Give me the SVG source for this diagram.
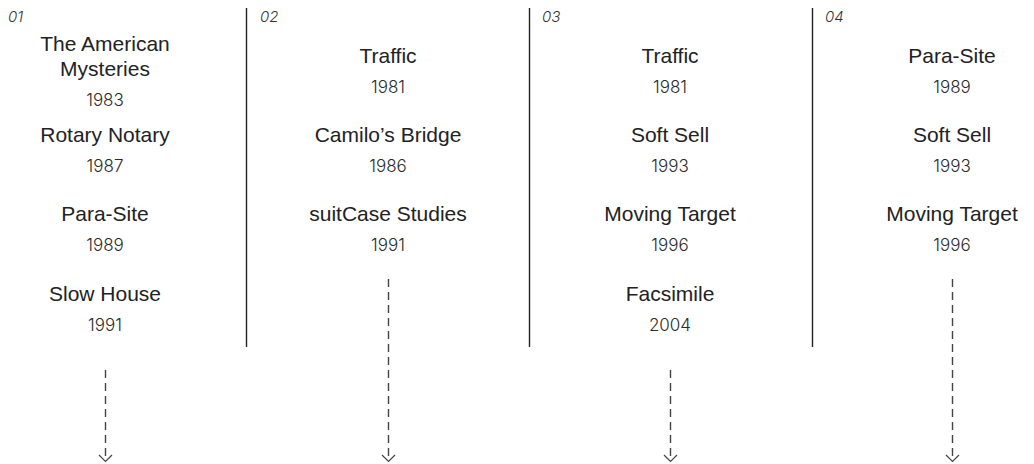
<svg xmlns="http://www.w3.org/2000/svg" width="1034" height="464" viewBox="0 0 1034 464">
<style>
.t{font-family:"Liberation Sans",Arial,sans-serif;font-size:21px;fill:#222;text-anchor:middle}
.y{font-family:Inter,"Liberation Sans",sans-serif;font-size:17px;font-weight:300;fill:#2a2a2a;text-anchor:middle}
.n{font-family:Inter,"Liberation Sans",sans-serif;font-size:15px;font-weight:300;font-style:italic;fill:#333}
.sep{stroke:#222;stroke-width:1.4}
.arr{stroke:#444;stroke-width:1.4;stroke-dasharray:8 5;fill:none}
.hd{stroke:#444;stroke-width:1.2;fill:none}
</style>
<rect width="1034" height="464" fill="#fff"/>
<g id="separators">
<line class="sep" x1="246.5" y1="8" x2="246.5" y2="347"/>
<line class="sep" x1="529.5" y1="8" x2="529.5" y2="347"/>
<line class="sep" x1="812.5" y1="8" x2="812.5" y2="347"/>
</g>
<g id="col1">
<text class="n" x="8" y="22">01</text>
<text class="t" x="105" y="51">The American</text>
<text class="t" x="105" y="76">Mysteries</text>
<text class="y" x="105" y="106">1983</text>
<text class="t" x="105" y="142">Rotary Notary</text>
<text class="y" x="105" y="172">1987</text>
<text class="t" x="105" y="221">Para-Site</text>
<text class="y" x="105" y="251">1989</text>
<text class="t" x="105" y="301">Slow House</text>
<text class="y" x="105" y="331">1991</text>
</g>
<g id="col2">
<text class="n" x="260" y="22">02</text>
<text class="t" x="388" y="63">Traffic</text>
<text class="y" x="388" y="93">1981</text>
<text class="t" x="388" y="142">Camilo’s Bridge</text>
<text class="y" x="388" y="172">1986</text>
<text class="t" x="388" y="221">suitCase Studies</text>
<text class="y" x="388" y="251">1991</text>
</g>
<g id="col3">
<text class="n" x="542" y="22">03</text>
<text class="t" x="670" y="63">Traffic</text>
<text class="y" x="670" y="93">1981</text>
<text class="t" x="670" y="142">Soft Sell</text>
<text class="y" x="670" y="172">1993</text>
<text class="t" x="670" y="221">Moving Target</text>
<text class="y" x="670" y="251">1996</text>
<text class="t" x="670" y="301">Facsimile</text>
<text class="y" x="670" y="331">2004</text>
</g>
<g id="col4">
<text class="n" x="825" y="22">04</text>
<text class="t" x="952" y="63">Para-Site</text>
<text class="y" x="952" y="93">1989</text>
<text class="t" x="952" y="142">Soft Sell</text>
<text class="y" x="952" y="172">1993</text>
<text class="t" x="952" y="221">Moving Target</text>
<text class="y" x="952" y="251">1996</text>
</g>
<g id="connectors">
<line class="arr" x1="105.5" y1="370" x2="105.5" y2="461"/>
<polyline class="hd" points="99,455 105.5,461.5 112,455"/>
<line class="arr" x1="388.5" y1="279" x2="388.5" y2="461"/>
<polyline class="hd" points="382,455 388.5,461.5 395,455"/>
<line class="arr" x1="670.5" y1="370" x2="670.5" y2="461"/>
<polyline class="hd" points="664,455 670.5,461.5 677,455"/>
<line class="arr" x1="952.5" y1="279" x2="952.5" y2="461"/>
<polyline class="hd" points="946,455 952.5,461.5 959,455"/>
</g>
</svg>
